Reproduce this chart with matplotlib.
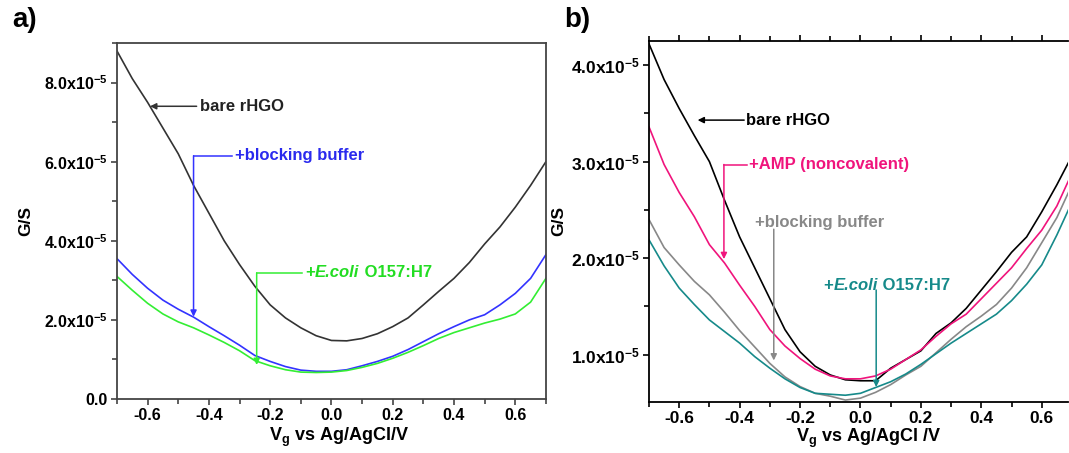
import numpy as np
import matplotlib
matplotlib.use("Agg")
import matplotlib.pyplot as plt
from matplotlib.ticker import MultipleLocator, FuncFormatter

plt.rcParams['font.family'] = ['Liberation Sans', 'DejaVu Sans']
plt.rcParams['font.weight'] = 'bold'
plt.rcParams['axes.labelweight'] = 'bold'
plt.rcParams['mathtext.default'] = 'regular'
plt.rcParams['mathtext.fontset'] = 'custom'
plt.rcParams['mathtext.rm'] = 'Liberation Sans:bold'

# gate voltage (V vs Ag/AgCl)
vg = np.round(np.arange(-0.70, 0.701, 0.05), 2)

# panel a: conductance in units of 1e-5 S
a_bare = [8.80, 8.10, 7.50, 6.85, 6.20, 5.40, 4.70, 4.00, 3.40, 2.85, 2.38, 2.05, 1.80, 1.60,
          1.48, 1.47, 1.53, 1.65, 1.83, 2.05, 2.38, 2.72, 3.05, 3.45, 3.92, 4.35, 4.85, 5.40, 6.00]
a_block = [3.55, 3.15, 2.80, 2.50, 2.27, 2.07, 1.83, 1.60, 1.36, 1.10, 0.95, 0.82, 0.73, 0.70,
           0.70, 0.74, 0.84, 0.95, 1.08, 1.25, 1.45, 1.65, 1.83, 2.00, 2.13, 2.38, 2.67, 3.05, 3.65]
a_ecoli = [3.10, 2.75, 2.42, 2.15, 1.95, 1.80, 1.62, 1.43, 1.22, 0.97, 0.84, 0.74, 0.68, 0.67,
           0.68, 0.72, 0.80, 0.90, 1.03, 1.18, 1.35, 1.53, 1.68, 1.80, 1.92, 2.02, 2.15, 2.45, 3.05]

# panel b: conductance in units of 1e-5 S
b_bare = [4.22, 3.85, 3.55, 3.27, 3.00, 2.60, 2.22, 1.90, 1.58, 1.26, 1.03, 0.88, 0.79, 0.74,
          0.73, 0.73, 0.86, 0.95, 1.04, 1.22, 1.33, 1.48, 1.67, 1.86, 2.06, 2.22, 2.48, 2.76, 3.06]
b_amp = [3.36, 2.97, 2.68, 2.43, 2.14, 1.95, 1.72, 1.50, 1.26, 1.09, 0.96, 0.85, 0.78, 0.75,
         0.75, 0.78, 0.85, 0.95, 1.05, 1.19, 1.32, 1.42, 1.58, 1.74, 1.90, 2.10, 2.29, 2.54, 2.88]
b_block = [2.40, 2.11, 1.93, 1.76, 1.62, 1.44, 1.25, 1.08, 0.91, 0.77, 0.67, 0.60, 0.57, 0.53,
           0.55, 0.61, 0.69, 0.79, 0.88, 1.02, 1.16, 1.29, 1.40, 1.52, 1.69, 1.90, 2.16, 2.42, 2.76]
b_ecoli = [2.19, 1.92, 1.69, 1.52, 1.36, 1.24, 1.12, 0.98, 0.86, 0.75, 0.66, 0.60, 0.59, 0.58,
           0.60, 0.66, 0.72, 0.80, 0.90, 1.01, 1.12, 1.22, 1.32, 1.42, 1.56, 1.73, 1.93, 2.24, 2.58]

SCALE = 1e-5


def sci_label(v, pos):
    m = v / SCALE
    if abs(m) < 1e-9:
        return '0.0'
    return f'{m:.1f}x10$^{{-5}}$'


def style_axis(ax, frame_color, tick_size, ymajor, yminor):
    ax.xaxis.set_major_locator(MultipleLocator(0.2))
    ax.xaxis.set_minor_locator(MultipleLocator(0.1))
    ax.yaxis.set_major_locator(MultipleLocator(ymajor))
    ax.yaxis.set_minor_locator(MultipleLocator(yminor))
    ax.yaxis.set_major_formatter(FuncFormatter(sci_label))
    ax.xaxis.set_major_formatter(FuncFormatter(lambda v, p: f'{v:.1f}'))
    ax.tick_params(which='both', direction='out', color=frame_color, width=1.2,
                   labelsize=tick_size, pad=2)
    ax.tick_params(which='major', length=4.5)
    ax.tick_params(which='minor', length=3.5)
    for s in ax.spines.values():
        s.set_color(frame_color)
        s.set_linewidth(1.3)


def arrow(ax, x0, y0, x1, y1, color):
    ax.annotate('', xy=(x1, y1), xytext=(x0, y0),
                arrowprops=dict(arrowstyle='-|>', color=color, lw=1.1,
                                mutation_scale=9, shrinkA=0, shrinkB=0))


def elbow(ax, x0, x1, y0, y1, color):
    # horizontal lead from the label, then a vertical arrow down to the curve
    ax.plot([x0, x1], [y0, y0], color=color, lw=1.1)
    arrow(ax, x1, y0, x1, y1, color)


def ecoli_label(ax, x, y, color):
    # "+E.coli O157:H7" with only the species name in italics
    t1 = ax.text(x, y, '+', color=color, fontsize=12, ha='left', va='center')
    t2 = ax.annotate('E.coli', xy=(1, 0), xycoords=t1, color=color, fontsize=12,
                     style='italic', ha='left', va='bottom')
    ax.annotate(' O157:H7', xy=(1, 0), xycoords=t2, color=color, fontsize=12,
                ha='left', va='bottom')


fig = plt.figure(figsize=(10.69, 4.53), dpi=100)
ax1 = fig.add_axes([0.1094, 0.1192, 0.4013, 0.7859])
ax2 = fig.add_axes([0.6071, 0.1126, 0.3920, 0.7970])

# ---- panel a ----
x = vg
ax1.plot(x, np.array(a_bare) * SCALE, color='#333333', lw=1.2)
ax1.plot(x, np.array(a_block) * SCALE, color='#3333ff', lw=1.2)
ax1.plot(x, np.array(a_ecoli) * SCALE, color='#33ee33', lw=1.2)
ax1.set_xlim(-0.7, 0.7)
ax1.set_ylim(0, 9.0e-5)
style_axis(ax1, '#444444', 11.5, 2e-5, 1e-5)

arrow(ax1, -0.44, 7.40e-5, -0.592, 7.40e-5, '#333333')
ax1.text(-0.43, 7.40e-5, 'bare rHGO', color='#222222', fontsize=12,
         ha='left', va='center')

elbow(ax1, -0.325, -0.450, 6.15e-5, 2.08e-5, '#3333ff')
ax1.text(-0.315, 6.15e-5, '+blocking buffer', color='#2a2aee', fontsize=12,
         ha='left', va='center')

elbow(ax1, -0.095, -0.244, 3.19e-5, 0.86e-5, '#33ee33')
ecoli_label(ax1, -0.085, 3.19e-5, '#22dd22')

ax1.set_ylabel('G/S', fontsize=12.5)
ax1.yaxis.set_label_coords(-0.196, 0.5)
ax1.set_xlabel('V$_{g}$ vs Ag/AgCl/V', fontsize=13)
ax1.xaxis.set_label_coords(0.517, -0.075)
fig.text(0.011, 0.955, 'a)', fontsize=20, ha='left', va='center')

# ---- panel b ----
ax2.plot(x, np.array(b_bare) * SCALE, color='#000000', lw=1.2)
ax2.plot(x, np.array(b_amp) * SCALE, color='#f0147c', lw=1.2)
ax2.plot(x, np.array(b_block) * SCALE, color='#888888', lw=1.2)
ax2.plot(x, np.array(b_ecoli) * SCALE, color='#168a8a', lw=1.2)
ax2.set_xlim(-0.7, 0.687)
ax2.set_ylim(0.51e-5, 4.25e-5)
style_axis(ax2, '#000000', 12.5, 1e-5, 0.5e-5)
ax2.spines['right'].set_visible(False)
ax2.tick_params(which='both', top=True, labeltop=False)

arrow(ax2, -0.385, 3.43e-5, -0.539, 3.43e-5, '#000000')
ax2.text(-0.378, 3.43e-5, 'bare rHGO', color='#000000', fontsize=12,
         ha='left', va='center')

elbow(ax2, -0.376, -0.452, 2.97e-5, 1.99e-5, '#f0147c')
ax2.text(-0.370, 2.97e-5, '+AMP (noncovalent)', color='#f0147c', fontsize=12,
         ha='left', va='center')

arrow(ax2, -0.287, 2.30e-5, -0.287, 0.94e-5, '#888888')
ax2.text(-0.350, 2.37e-5, '+blocking buffer', color='#888888', fontsize=12,
         ha='left', va='center')

arrow(ax2, 0.052, 1.67e-5, 0.052, 0.665e-5, '#168a8a')
ecoli_label(ax2, -0.122, 1.72e-5, '#168a8a')

ax2.set_ylabel('G/S', fontsize=12.5)
ax2.yaxis.set_label_coords(-0.198, 0.5)
ax2.set_xlabel('V$_{g}$ vs Ag/AgCl /V', fontsize=13)
ax2.xaxis.set_label_coords(0.525, -0.07)
fig.text(0.528, 0.955, 'b)', fontsize=20, ha='left', va='center')

fig.savefig('out.png', dpi=100)
